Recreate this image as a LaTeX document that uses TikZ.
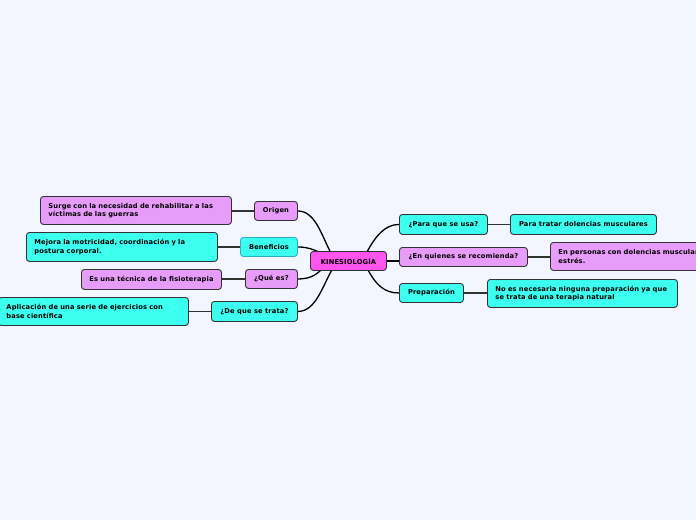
\documentclass[tikz,border=0pt]{standalone}
\usepackage{fontspec}
\setmainfont{DejaVu Sans}[LetterSpace=2]
\usetikzlibrary{calc,backgrounds}
\definecolor{bgc}{HTML}{F3F6FF}
\definecolor{cyanbox}{HTML}{3CFFF0}
\definecolor{violetbox}{HTML}{E69CF8}
\definecolor{magbox}{HTML}{FF55EE}
\definecolor{edgec}{HTML}{333333}
\definecolor{benedge}{HTML}{2AAFCF}
\tikzset{
  box/.style={draw=edgec, line width=0.9pt, rounded corners=3pt, font=\fontsize{6.7}{8.4}\selectfont\bfseries, text=black, inner sep=0pt, anchor=north west},
  cy/.style={box, fill=cyanbox},
  vi/.style={box, fill=violetbox},
  mg/.style={box, fill=magbox},
  wide/.style={align=left, inner xsep=8pt},
  link/.style={draw=edgec, line width=1.3pt},
  curve/.style={draw=black, line width=1.3pt},
}
\begin{document}
\begin{tikzpicture}[x=1pt,y=-1pt]
\useasboundingbox (0,0) rectangle (696,520);
\clip (0,0) rectangle (696,520);
% central
\node[mg, minimum width=76pt, minimum height=19pt] (kin) at (310,251) {KINESIOLOGÍA};
% left branches
\node[vi, minimum width=43pt, minimum height=19pt] (origen) at (254,201) {Origen};
\node[vi, wide, text width=175pt, minimum height=28pt] (surge) at (40,196) {Surge con la necesidad de rehabilitar a las\\víctimas de las guerras};
\node[cy, draw=benedge, minimum width=57pt, minimum height=19pt] (benef) at (240,237) {Beneficios};
\node[cy, wide, text width=175pt, minimum height=29pt] (mejora) at (26,232) {Mejora la motricidad, coordinación y la\\postura corporal.};
\node[vi, minimum width=52pt, minimum height=19pt] (que) at (245,269) {¿Qué es?};
\node[vi, minimum width=140pt, minimum height=20pt] (esuna) at (81,269) {Es una técnica de la fisioterapia};
\node[cy, minimum width=86pt, minimum height=20pt] (detrata) at (211,301) {¿De que se trata?};
\node[cy, align=left, inner xsep=8pt, text width=174pt, minimum height=28pt] (aplic) at (-2,297) {Aplicación de una serie de ejercicios con\\base científica};
% right branches
\node[cy, minimum width=88pt, minimum height=20pt] (parausa) at (399,214) {¿Para que se usa?};
\node[cy, minimum width=146pt, minimum height=20pt] (paratratar) at (510,214) {Para tratar dolencias musculares};
\node[vi, minimum width=128pt, minimum height=19pt] (enquienes) at (399,247) {¿En quienes se recomienda?};
\node[vi, wide, text width=174pt, minimum height=28pt] (enpersonas) at (550,242) {En personas con dolencias musculares y\\estrés.};
\node[cy, minimum width=64pt, minimum height=19pt] (prep) at (399,283) {Preparación};
\node[cy, wide, text width=174pt, minimum height=28pt] (noes) at (487,279) {No es necesaria ninguna preparación ya que\\se trata de una terapia natural};
\begin{scope}[on background layer]
\fill[bgc] (0,0) rectangle (696,520);
% child links
\draw[link] (origen.west) -- (origen.west -| surge.east);
\draw[link] (benef.west) -- (benef.west -| mejora.east);
\draw[link] (que.west) -- (que.west -| esuna.east);
\draw[link] (detrata.west) -- (detrata.west -| aplic.east);
\draw[link] (parausa.east) -- (parausa.east -| paratratar.west);
\draw[link] (enquienes.east) -- (enquienes.east -| enpersonas.west);
\draw[link] (prep.east) -- (prep.east -| noes.west);
% central curves
\draw[curve] (origen.east) .. controls +(18,0) and +(-9,-16) .. ($(kin.center)+(-17,-7)$);
\draw[curve] (benef.east) .. controls +(11,0) and +(-7,-4) .. ($(kin.center)+(-24,-6)$);
\draw[curve] (que.east) .. controls +(15,0) and +(-6,5) .. ($(kin.center)+(-25,7)$);
\draw[curve] (detrata.east) .. controls +(18,0) and +(-10,17) .. ($(kin.center)+(-16,8)$);
\draw[curve] (parausa.west) .. controls +(-14,0) and +(9,-17) .. ($(kin.center)+(18,-8)$);
\draw[curve] (kin.east) -- (kin.east -| enquienes.west);
\draw[curve] (prep.west) .. controls +(-14,0) and +(9,17) .. ($(kin.center)+(19,8)$);
\end{scope}
\end{tikzpicture}
\end{document}
